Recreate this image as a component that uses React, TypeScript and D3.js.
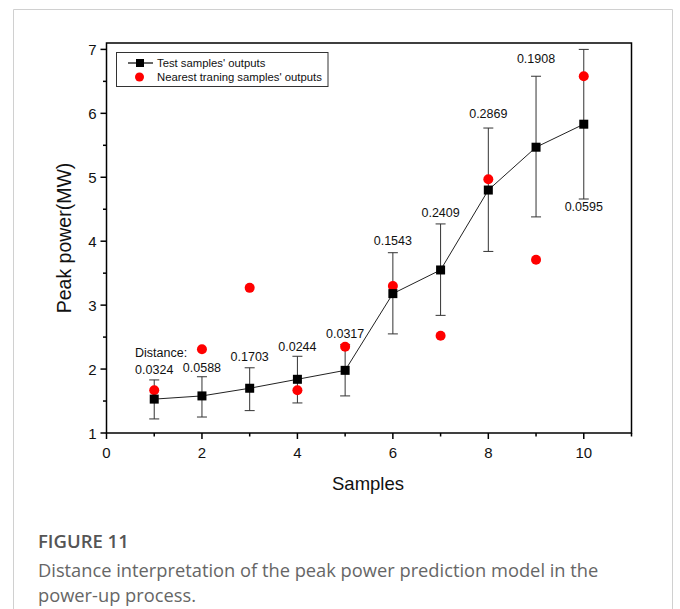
import React from "react";
import * as d3 from "d3";

const samples = [1, 2, 3, 4, 5, 6, 7, 8, 9, 10];
const testOutputs = [1.53, 1.58, 1.70, 1.84, 1.98, 3.18, 3.55, 4.80, 5.47, 5.83];
const errUpper = [1.83, 1.88, 2.02, 2.20, 2.38, 3.82, 4.27, 5.77, 6.58, 7.0];
const errLower = [1.22, 1.25, 1.35, 1.47, 1.58, 2.55, 2.84, 3.84, 4.38, 4.66];
const nearestOutputs = [1.67, 2.31, 3.27, 1.67, 2.35, 3.30, 2.52, 4.97, 3.71, 6.58];
const distanceLabels = ["0.0324", "0.0588", "0.1703", "0.0244", "0.0317", "0.1543", "0.2409", "0.2869", "0.1908", "0.0595"];
// value-space position of each distance label
const distanceLabelY = [2.0, 2.03, 2.19, 2.36, 2.55, 4.01, 4.45, 6.0, 6.85, 4.54];
const xTicks = [0, 2, 4, 6, 8, 10];
const xMinor = [1, 3, 5, 7, 9, 11];
const yTicks = [1, 2, 3, 4, 5, 6, 7];
const yMinor = [1.5, 2.5, 3.5, 4.5, 5.5, 6.5];

const FONT = "Arial, 'Liberation Sans', Helvetica, sans-serif";
const CAP = "'Open Sans', sans-serif";

export default function App() {
  const left = 106.5, right = 631.5, top = 43, bottom = 433;
  const x = d3.scaleLinear().domain([0, 11]).range([left, right]);
  const y = d3.scaleLinear().domain([1, 7.1]).range([bottom, top]);
  const line = d3
    .line<number>()
    .x((_, i) => x(samples[i]))
    .y((d) => y(d));

  return (
    <svg
      width={680}
      height={609}
      style={{ position: "absolute", left: 0, top: 0, background: "#fff" }}
      fontFamily={FONT}
    >
      <rect x={0} y={0} width={680} height={609} fill="#fff" />
      {/* card border */}
      <path d="M13.5,609 V9.5 H672.5 V609" fill="none" stroke="#d0d0d0" strokeWidth={1} />

      {/* frame */}
      <rect x={left} y={top} width={right - left} height={bottom - top} fill="none" stroke="#000" strokeWidth={1.5} />

      {/* x ticks */}
      {xTicks.map((t) => (
        <g key={"xt" + t}>
          <line x1={x(t)} x2={x(t)} y1={bottom} y2={bottom + 6} stroke="#000" strokeWidth={1.5} />
          <text x={x(t)} y={bottom + 25} textAnchor="middle" fontSize={15} fill="#111">
            {t}
          </text>
        </g>
      ))}
      {xMinor.map((t) => (
        <line key={"xm" + t} x1={x(t)} x2={x(t)} y1={bottom} y2={bottom + 3.5} stroke="#000" strokeWidth={1.5} />
      ))}
      {/* y ticks */}
      {yTicks.map((t) => (
        <g key={"yt" + t}>
          <line x1={left - 6} x2={left} y1={y(t)} y2={y(t)} stroke="#000" strokeWidth={1.5} />
          <text x={left - 10} y={y(t) + 5.5} textAnchor="end" fontSize={15} fill="#111">
            {t}
          </text>
        </g>
      ))}
      {yMinor.map((t) => (
        <line key={"ym" + t} x1={left - 3.5} x2={left} y1={y(t)} y2={y(t)} stroke="#000" strokeWidth={1.5} />
      ))}

      {/* axis titles */}
      <text x={368} y={490} textAnchor="middle" fontSize={18.5} fill="#111">
        Samples
      </text>
      <text
        transform={`translate(71,${(top + bottom) / 2}) rotate(-90)`}
        textAnchor="middle"
        fontSize={19.5}
        fill="#111"
      >
        Peak power(MW)
      </text>

      {/* error bars */}
      {samples.map((s, i) => (
        <g key={"eb" + s} stroke="#333" strokeWidth={1}>
          <line x1={x(s)} x2={x(s)} y1={y(errUpper[i])} y2={y(errLower[i])} />
          <line x1={x(s) - 5} x2={x(s) + 5} y1={y(errUpper[i])} y2={y(errUpper[i])} />
          <line x1={x(s) - 5} x2={x(s) + 5} y1={y(errLower[i])} y2={y(errLower[i])} />
        </g>
      ))}

      {/* connecting line */}
      <path d={line(testOutputs) || ""} fill="none" stroke="#222" strokeWidth={1} />

      {/* red dots */}
      {samples.map((s, i) => (
        <circle key={"rd" + s} cx={x(s)} cy={y(nearestOutputs[i])} r={5} fill="#ff0000" />
      ))}

      {/* squares */}
      {samples.map((s, i) => (
        <rect key={"sq" + s} x={x(s) - 4.5} y={y(testOutputs[i]) - 4.5} width={9} height={9} fill="#000" />
      ))}

      {/* distance labels */}
      <text x={135} y={y(2.26) + 4.5} fontSize={12.5} fill="#111">
        Distance:
      </text>
      {samples.map((s, i) => (
        <text key={"dl" + s} x={x(s)} y={y(distanceLabelY[i]) + 4.5} textAnchor="middle" fontSize={12.5} fill="#111">
          {distanceLabels[i]}
        </text>
      ))}

      {/* legend */}
      <rect x={116.5} y={52.5} width={211.5} height={34} fill="#fff" stroke="#333" strokeWidth={1} />
      <line x1={128} x2={153} y1={63} y2={63} stroke="#000" strokeWidth={1.2} />
      <rect x={136} y={59} width={8} height={8} fill="#000" />
      <text x={157} y={67} fontSize={11.3} fill="#111">
        Test samples' outputs
      </text>
      <circle cx={139.5} cy={77} r={4.5} fill="#ff0000" />
      <text x={157} y={81} fontSize={11.3} fill="#111">
        Nearest traning samples' outputs
      </text>

      {/* caption */}
      <text x={38} y={548} fontSize={18.5} fontWeight={600} fill="#555" fontFamily={CAP}>
        FIGURE 11
      </text>
      <text x={38} y={577} fontSize={18.3} fill="#666" fontFamily={CAP}>
        Distance interpretation of the peak power prediction model in the
      </text>
      <text x={38} y={602} fontSize={18.3} fill="#666" fontFamily={CAP}>
        power-up process.
      </text>
    </svg>
  );
}
